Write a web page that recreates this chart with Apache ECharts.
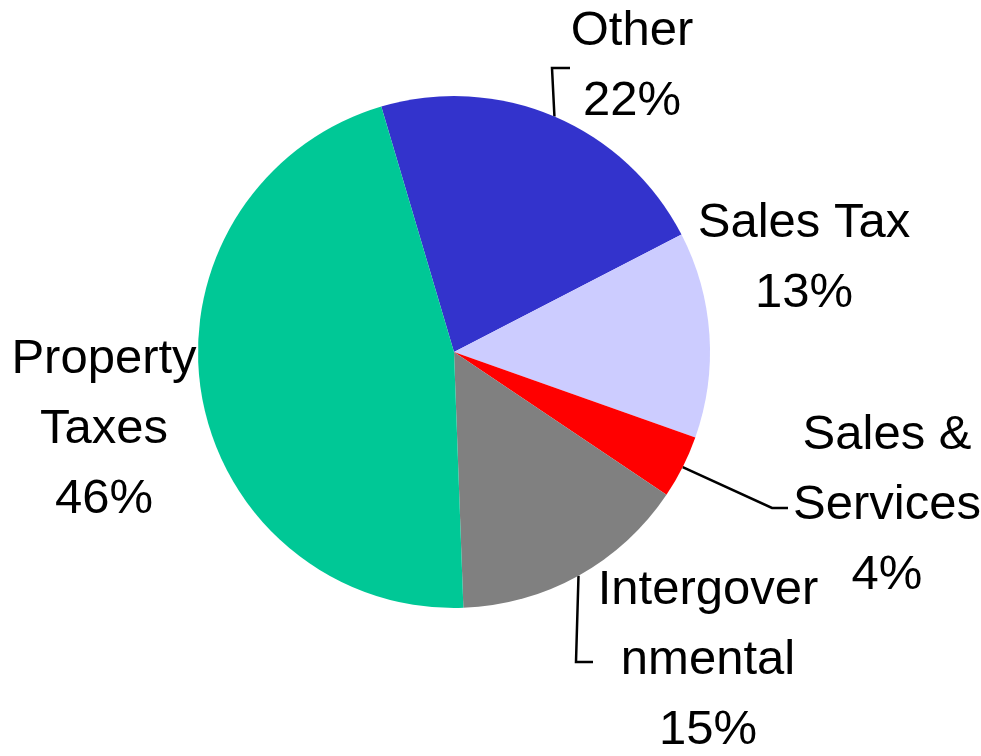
<!DOCTYPE html>
<html>
<head>
<meta charset="utf-8">
<title>Revenue pie</title>
<script src="https://cdn.jsdelivr.net/npm/echarts@6.0.0/dist/echarts.min.js"></script>
<style>
    html, body { margin: 0; padding: 0; background: #fff; }
    #main { width: 981px; height: 756px; }
</style>
</head>
<body>
<div id="main"></div>
<script>
// data (clockwise from top)
var categories = ['Other', 'Sales Tax', 'Sales &\nServices', 'Intergover\nnmental', 'Property\nTaxes'];
var shares = [22, 13, 4, 15, 46];
var colors = ['#3333CC', '#CCCCFF', '#FF0000', '#808080', '#00C896'];

// label placement: centre of text block, plus elbow/end of the leader line relative to it
var labelPos = [
    {x: 632, y: 66, line: [[-80, 2], [-62, 2]]},
    {x: 804, y: 258, line: null},
    {x: 887, y: 505, line: [[-115, 3], [-99, 3]]},
    {x: 708, y: 660, line: [[-132, 2], [-115, 2]]},
    {x: 104, y: 429, line: null}
];

var myChart = echarts.init(document.getElementById('main'), null, {renderer: 'canvas'});

var seriesData = categories.map(function (name, i) {
    return {
        name: name,
        value: shares[i],
        itemStyle: {color: colors[i]},
        labelLine: {show: !!labelPos[i].line}
    };
});

var option = {
    backgroundColor: '#ffffff',
    animation: false,
    series: [
        {
            type: 'pie',
            center: [454, 352],
            radius: 256,
            startAngle: 106.5,
            clockwise: true,
            avoidLabelOverlap: false,
            itemStyle: {borderWidth: 0},
            emphasis: {disabled: true},
            label: {
                show: true,
                position: 'outside',
                formatter: function (p) {
                    return p.name + '\n' + Math.round(p.percent) + '%';
                },
                color: '#000',
                fontFamily: "'Liberation Sans Narrow', 'Arial Narrow', 'Liberation Sans', sans-serif",
                fontSize: 49,
                lineHeight: 70,
                align: 'center'
            },
            labelLine: {
                show: true,
                lineStyle: {color: '#000', width: 2.5}
            },
            labelLayout: function (params) {
                var pos = labelPos[params.dataIndex];
                var res = {
                    x: pos.x,
                    y: pos.y,
                    align: 'center',
                    verticalAlign: 'middle'
                };
                if (pos.line && params.labelLinePoints) {
                    var start = params.labelLinePoints[0];
                    res.labelLinePoints = [
                        start,
                        [pos.x + pos.line[0][0], pos.y + pos.line[0][1]],
                        [pos.x + pos.line[1][0], pos.y + pos.line[1][1]]
                    ];
                }
                return res;
            },
            data: seriesData
        }
    ]
};
myChart.setOption(option);
</script>
</body>
</html>
